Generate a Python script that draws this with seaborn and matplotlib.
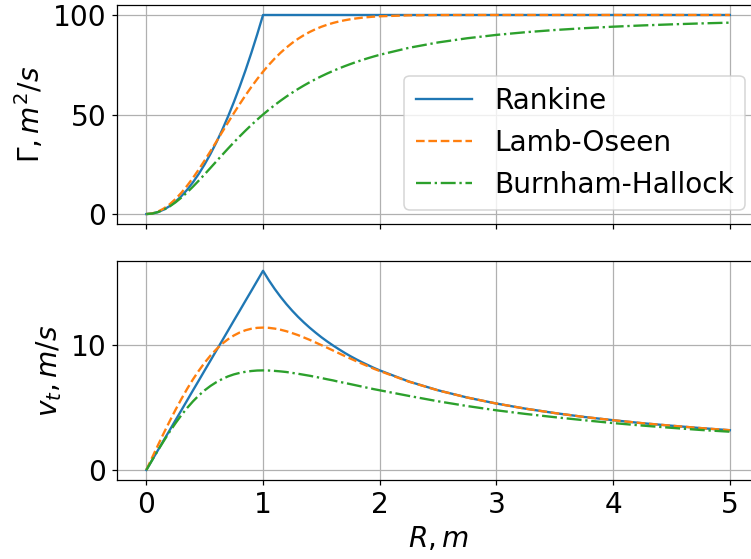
import matplotlib
matplotlib.use("Agg")
import matplotlib.pyplot as plt
import seaborn as sns

# Radial positions, m
r = [0.0, 0.05, 0.1, 0.15, 0.2, 0.25, 0.3, 0.35, 0.4, 0.45, 0.5,
     0.55, 0.6, 0.65, 0.7, 0.75, 0.8, 0.85, 0.9, 0.95, 1.0,
     1.05, 1.1, 1.15, 1.2, 1.25, 1.3, 1.35, 1.4, 1.45, 1.5,
     1.55, 1.6, 1.65, 1.7, 1.75, 1.8, 1.85, 1.9, 1.95, 2.0,
     2.25, 2.5, 2.75, 3.0, 3.25, 3.5, 3.75, 4.0, 4.25, 4.5, 4.75, 5.0]

# Circulation, m^2/s
gamma_rankine = [0.0, 0.25, 1.0, 2.25, 4.0, 6.25, 9.0, 12.25, 16.0, 20.25, 25.0,
                 30.25, 36.0, 42.25, 49.0, 56.25, 64.0, 72.25, 81.0, 90.25, 100.0,
                 100.0, 100.0, 100.0, 100.0, 100.0, 100.0, 100.0, 100.0, 100.0, 100.0,
                 100.0, 100.0, 100.0, 100.0, 100.0, 100.0, 100.0, 100.0, 100.0, 100.0,
                 100.0, 100.0, 100.0, 100.0, 100.0, 100.0, 100.0, 100.0, 100.0, 100.0, 100.0, 100.0]
gamma_lamb = [0.0, 0.31, 1.25, 2.79, 4.90, 7.55, 10.69, 14.27, 18.21, 22.46, 26.96,
              31.62, 36.38, 41.19, 45.97, 50.67, 55.25, 59.66, 63.86, 67.82, 71.53,
              74.97, 78.13, 81.02, 83.62, 85.96, 88.04, 89.87, 91.48, 92.87, 94.08,
              95.11, 95.99, 96.73, 97.35, 97.87, 98.29, 98.64, 98.93, 99.16, 99.34,
              99.83, 99.96, 99.99, 100.0, 100.0, 100.0, 100.0, 100.0, 100.0, 100.0, 100.0, 100.0]
gamma_burnham = [0.0, 0.25, 0.99, 2.20, 3.85, 5.88, 8.26, 10.91, 13.79, 16.84, 20.0,
                 23.22, 26.47, 29.70, 32.89, 36.0, 39.02, 41.94, 44.75, 47.44, 50.0,
                 52.44, 54.75, 56.94, 59.02, 60.98, 62.83, 64.57, 66.22, 67.77, 69.23,
                 70.61, 71.91, 73.14, 74.29, 75.38, 76.42, 77.39, 78.31, 79.18, 80.0,
                 83.51, 86.21, 88.32, 90.0, 91.35, 92.45, 93.36, 94.12, 94.75, 95.29, 95.76, 96.15]

# Tangential velocity, m/s
vt_rankine = [0.0, 0.80, 1.59, 2.39, 3.18, 3.98, 4.77, 5.57, 6.37, 7.16, 7.96,
              8.75, 9.55, 10.34, 11.14, 11.94, 12.73, 13.53, 14.32, 15.12, 15.92,
              15.16, 14.47, 13.84, 13.26, 12.73, 12.24, 11.79, 11.37, 10.98, 10.61,
              10.27, 9.95, 9.65, 9.36, 9.09, 8.84, 8.60, 8.38, 8.16, 7.96,
              7.07, 6.37, 5.79, 5.31, 4.90, 4.55, 4.24, 3.98, 3.74, 3.54, 3.35, 3.18]
vt_lamb = [0.0, 1.00, 1.99, 2.96, 3.90, 4.81, 5.67, 6.49, 7.25, 7.94, 8.58,
           9.15, 9.65, 10.09, 10.45, 10.75, 10.99, 11.17, 11.29, 11.36, 11.38,
           11.36, 11.30, 11.21, 11.09, 10.94, 10.78, 10.59, 10.40, 10.19, 9.98,
           9.77, 9.55, 9.33, 9.11, 8.90, 8.69, 8.49, 8.29, 8.09, 7.91,
           7.06, 6.36, 5.79, 5.31, 4.90, 4.55, 4.24, 3.98, 3.74, 3.54, 3.35, 3.18]
vt_burnham = [0.0, 0.79, 1.58, 2.33, 3.06, 3.74, 4.38, 4.96, 5.49, 5.96, 6.37,
              6.72, 7.02, 7.27, 7.48, 7.64, 7.76, 7.85, 7.91, 7.95, 7.96,
              7.95, 7.92, 7.88, 7.83, 7.76, 7.69, 7.61, 7.53, 7.44, 7.35,
              7.25, 7.16, 7.05, 6.96, 6.86, 6.76, 6.66, 6.56, 6.46, 6.37,
              5.92, 5.49, 5.11, 4.77, 4.48, 4.22, 3.98, 3.75, 3.55, 3.37, 3.20, 3.06]

models = ["Rankine", "Lamb-Oseen", "Burnham-Hallock"]
colors = ["tab:blue", "tab:orange", "tab:green"]
styles = ["-", "--", "-."]

plt.rcParams["font.size"] = 18

DPI = 112
fig, (ax1, ax2) = plt.subplots(2, 1, sharex=True, figsize=(751 / DPI, 559 / DPI), dpi=DPI)
fig.subplots_adjust(left=0.156, right=1.0107, top=0.991, bottom=0.1413, hspace=0.169)

gammas = [gamma_rankine, gamma_lamb, gamma_burnham]
vts = [vt_rankine, vt_lamb, vt_burnham]

for name, col, ls, g, v in zip(models, colors, styles, gammas, vts):
    sns.lineplot(x=r, y=g, ax=ax1, color=col, linestyle=ls, linewidth=1.5, label=name)
    sns.lineplot(x=r, y=v, ax=ax2, color=col, linestyle=ls, linewidth=1.5, legend=False)

for ax in (ax1, ax2):
    ax.grid(True)
    ax.set_xlim(-0.25, 5.25)

ax1.set_ylim(-5, 105)
ax1.set_yticks([0, 50, 100])
ax2.set_ylim(-0.8, 16.7)
ax2.set_yticks([0, 10])
ax2.set_xticks([0, 1, 2, 3, 4, 5])

ax1.set_ylabel(r"$\Gamma, m^2/s$")
ax2.set_ylabel(r"$v_t, m/s$")
ax2.set_xlabel(r"$R, m$")

ax1.legend(loc="lower right")

fig.savefig("out.png", dpi=DPI)
